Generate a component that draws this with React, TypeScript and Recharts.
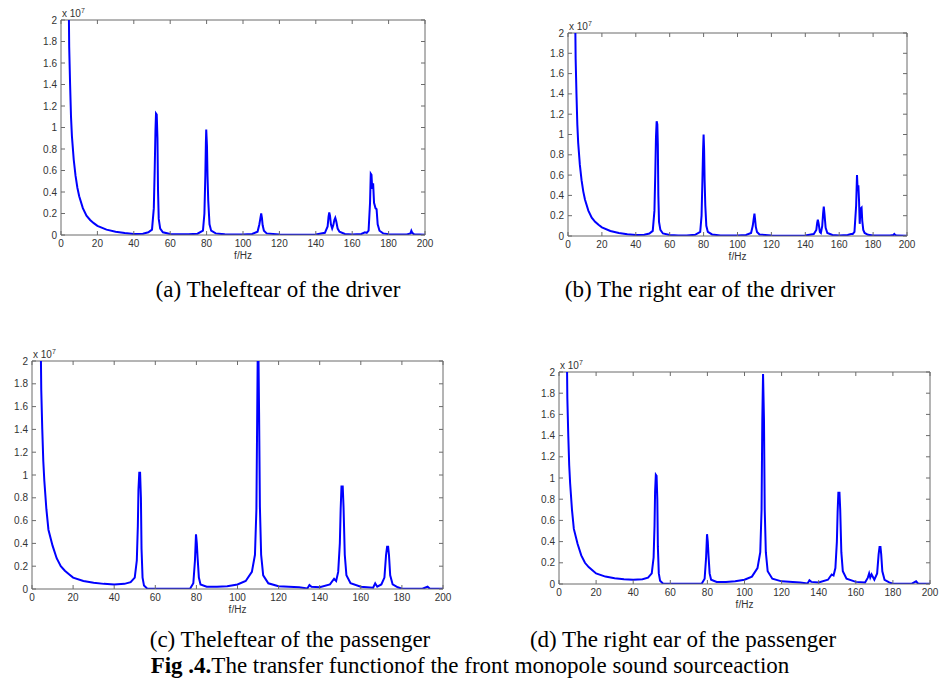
import { Line, LineChart, ReferenceLine, XAxis, YAxis } from 'recharts'

const FREQ_TICKS = [0, 20, 40, 60, 80, 100, 120, 140, 160, 180, 200]
const AMP_TICKS = [0, 0.2, 0.4, 0.6, 0.8, 1, 1.2, 1.4, 1.6, 1.8, 2]

// values in units of 1e7
const freqA = [
  4, 4.5, 5, 5.5, 6, 7, 8, 9, 10, 12, 14, 16, 18, 20, 25, 30, 35, 40, 45, 48,
  50, 51, 51.5, 51.9, 52.2, 52.6, 53, 53.3, 53.7, 54.5, 56, 60, 65, 70, 75, 78,
  78.8, 79.3, 79.6, 79.8, 80.2, 80.5, 80.9, 81.6, 82.5, 85, 90, 100, 105, 108,
  109, 109.5, 110, 110.4, 110.8, 111.5, 113, 120, 130, 140, 145, 146.5, 147,
  147.4, 147.8, 148.3, 149, 149.6, 150.2, 150.7, 151.2, 152, 153, 156, 160, 165,
  167, 168, 169, 169.8, 170.2, 170.6, 171, 171.5, 172, 172.8, 173.4, 174, 175,
  177, 180, 190, 192, 192.5, 193, 194, 200,
]
const ampA = [
  2.6, 1.75, 1.4, 1.1, 0.92, 0.7, 0.55, 0.44, 0.36, 0.25, 0.18, 0.14, 0.11,
  0.085, 0.05, 0.03, 0.018, 0.01, 0.012, 0.025, 0.05, 0.25, 0.62, 0.97, 1.13,
  1.12, 0.9, 0.42, 0.15, 0.06, 0.025, 0.01, 0.006, 0.006, 0.012, 0.04, 0.2,
  0.55, 0.85, 0.98, 0.83, 0.55, 0.32, 0.1, 0.04, 0.015, 0.006, 0.005, 0.01,
  0.03, 0.1, 0.15, 0.2, 0.16, 0.09, 0.04, 0.015, 0.005, 0.003, 0.005, 0.02,
  0.08, 0.17, 0.21, 0.18, 0.1, 0.06, 0.09, 0.14, 0.16, 0.13, 0.06, 0.03, 0.01,
  0.005, 0.01, 0.025, 0.02, 0.04, 0.3, 0.57, 0.56, 0.43, 0.48, 0.3, 0.25, 0.24,
  0.1, 0.04, 0.015, 0.008, 0.005, 0.015, 0.04, 0.02, 0.006, 0.003,
]

const freqB = [
  4, 4.5, 5, 5.5, 6, 7, 8, 9, 10, 12, 14, 16, 18, 20, 25, 30, 35, 40, 45, 48,
  50, 51, 51.5, 51.9, 52.3, 52.7, 53, 53.3, 53.7, 54.5, 56, 60, 65, 70, 75, 78,
  78.8, 79.3, 79.7, 80, 80.3, 80.6, 81, 81.6, 82.5, 85, 90, 100, 105, 108, 109,
  109.5, 110, 110.4, 110.8, 111.5, 113, 120, 130, 140, 145, 146.5, 147, 147.4,
  147.9, 148.6, 149.2, 150, 150.5, 150.9, 151.3, 152, 153, 156, 160, 165, 167,
  168, 169, 170, 170.5, 170.9, 171.3, 171.7, 172.1, 172.6, 173.2, 173.6, 174.2,
  175, 177, 180, 190, 192, 192.5, 193, 194, 200,
]
const ampB = [
  2.6, 1.75, 1.4, 1.1, 0.92, 0.7, 0.55, 0.44, 0.36, 0.25, 0.18, 0.14, 0.11,
  0.085, 0.05, 0.03, 0.018, 0.01, 0.012, 0.025, 0.05, 0.25, 0.62, 0.97, 1.13,
  1.1, 0.9, 0.4, 0.14, 0.06, 0.025, 0.01, 0.006, 0.006, 0.012, 0.04, 0.2, 0.55,
  0.85, 1.0, 0.85, 0.55, 0.3, 0.1, 0.04, 0.015, 0.006, 0.005, 0.01, 0.03, 0.1,
  0.16, 0.22, 0.16, 0.09, 0.04, 0.015, 0.005, 0.003, 0.005, 0.02, 0.06, 0.13,
  0.16, 0.12, 0.04, 0.03, 0.1, 0.22, 0.29, 0.22, 0.08, 0.03, 0.01, 0.005, 0.01,
  0.02, 0.02, 0.04, 0.3, 0.6, 0.45, 0.5, 0.35, 0.12, 0.27, 0.28, 0.15, 0.06,
  0.03, 0.012, 0.006, 0.004, 0.01, 0.02, 0.01, 0.004, 0.002,
]

const freqC = [
  4, 4.5, 5, 5.5, 6, 7, 8, 10, 12, 14, 16, 18, 20, 25, 30, 35, 40, 45, 48, 50,
  51, 51.5, 51.8, 52.2, 52.6, 53, 53.3, 53.8, 54.5, 56, 60, 70, 77, 78.5, 79.3,
  79.8, 80.2, 80.6, 81.2, 82, 85, 90, 95, 100, 104, 107, 108.5, 109.2, 109.6,
  110, 110.5, 110.9, 111.5, 112.5, 115, 120, 130, 134, 135, 136, 140, 145, 147,
  148, 149, 149.8, 150.2, 150.6, 151.2, 151.6, 152.2, 153, 155, 160, 166, 167,
  168, 170, 171.5, 172.3, 172.8, 173.3, 173.7, 174.3, 175.5, 178, 180, 190,
  192.5, 193.5, 200,
]
const ampC = [
  2.6, 1.75, 1.4, 1.12, 0.95, 0.7, 0.52, 0.38, 0.27, 0.2, 0.16, 0.13, 0.1, 0.07,
  0.055, 0.045, 0.04, 0.045, 0.06, 0.1, 0.25, 0.55, 0.87, 1.02, 1.02, 0.8, 0.35,
  0.1, 0.03, 0.005, 0.002, 0.002, 0.005, 0.05, 0.25, 0.48, 0.4, 0.27, 0.1, 0.04,
  0.02, 0.02, 0.025, 0.04, 0.07, 0.15, 0.3, 0.7, 1.55, 2.4, 1.55, 0.72, 0.3,
  0.12, 0.05, 0.025, 0.015, 0.005, 0.035, 0.02, 0.015, 0.04, 0.09, 0.07, 0.15,
  0.4, 0.7, 0.9, 0.9, 0.72, 0.3, 0.12, 0.05, 0.02, 0.012, 0.05, 0.02, 0.04, 0.1,
  0.3, 0.37, 0.37, 0.3, 0.12, 0.04, 0.015, 0.003, 0.002, 0.02, 0.005, 0.002,
]

const freqD = [
  4, 4.5, 5, 5.5, 6, 7, 8, 10, 12, 14, 16, 18, 20, 25, 30, 35, 40, 45, 48, 50,
  51, 51.5, 51.8, 52.2, 52.6, 53, 53.3, 53.8, 54.5, 56, 60, 70, 77, 78.5, 79.3,
  79.8, 80.2, 80.6, 81.2, 82, 85, 90, 95, 100, 104, 107, 108.5, 109.2, 109.6,
  110, 110.5, 110.9, 111.5, 112.5, 115, 120, 130, 134, 135, 136, 140, 145, 147,
  148, 149, 149.8, 150.2, 150.6, 151.2, 151.6, 152.2, 153, 155, 160, 165, 166.5,
  167.2, 167.8, 168.5, 170, 171.5, 172.3, 172.8, 173.3, 173.7, 174.3, 175.5,
  178, 180, 190, 192.5, 193.5, 200,
]
const ampD = [
  2.6, 1.75, 1.4, 1.12, 0.95, 0.7, 0.52, 0.38, 0.27, 0.2, 0.16, 0.13, 0.1, 0.07,
  0.055, 0.045, 0.04, 0.045, 0.06, 0.1, 0.25, 0.55, 0.87, 1.03, 1.02, 0.8, 0.35,
  0.1, 0.03, 0.005, 0.002, 0.002, 0.005, 0.05, 0.25, 0.47, 0.4, 0.27, 0.1, 0.04,
  0.02, 0.02, 0.025, 0.04, 0.07, 0.15, 0.3, 0.7, 1.55, 1.98, 1.55, 0.7, 0.3,
  0.12, 0.05, 0.025, 0.015, 0.005, 0.035, 0.02, 0.015, 0.04, 0.09, 0.08, 0.15,
  0.4, 0.68, 0.86, 0.86, 0.7, 0.3, 0.12, 0.05, 0.02, 0.015, 0.06, 0.1, 0.06,
  0.09, 0.04, 0.1, 0.28, 0.35, 0.35, 0.28, 0.12, 0.04, 0.015, 0.003, 0.002,
  0.025, 0.005, 0.002,
]

const toRows = (f: number[], a: number[]) => f.map((x, i) => ({ f: x, v: a[i] }))

const FRAME = '#6b6b6b'
const TICK_FONT = 'Arial, "Liberation Sans", sans-serif'

type PanelProps = {
  left: number
  top: number
  w: number
  h: number
  rows: { f: number; v: number }[]
}

function Panel({ left, top, w, h, rows }: PanelProps) {
  const ML = 32
  const MT = 10
  const MR = 10
  const MB = 30

  const xTick = (props: any) => {
    const { x, y, payload } = props
    return (
      <g>
        <line x1={x} y1={y} x2={x} y2={y - 4} stroke={FRAME} />
        <line x1={x} y1={y - h} x2={x} y2={y - h + 4} stroke={FRAME} />
        <text
          x={x}
          y={y + 12}
          textAnchor="middle"
          fontSize={10}
          fontFamily={TICK_FONT}
          fill="#333"
        >
          {payload.value}
        </text>
      </g>
    )
  }

  const yTick = (props: any) => {
    const { x, y, payload } = props
    return (
      <g>
        <line x1={x} y1={y} x2={x + 4} y2={y} stroke={FRAME} />
        <line x1={x + w} y1={y} x2={x + w - 4} y2={y} stroke={FRAME} />
        <text
          x={x - 4}
          y={y + 3.5}
          textAnchor="end"
          fontSize={10}
          fontFamily={TICK_FONT}
          fill="#333"
        >
          {payload.value}
        </text>
      </g>
    )
  }

  return (
    <div style={{ position: 'absolute', left: left - ML, top: top - MT }}>
      <LineChart
        width={w + ML + MR}
        height={h + MT + MB}
        data={rows}
        margin={{ top: MT, right: MR, bottom: 0, left: 0 }}
      >
        <XAxis
          dataKey="f"
          type="number"
          domain={[0, 200]}
          ticks={FREQ_TICKS}
          interval={0}
          allowDataOverflow
          height={MB}
          tickSize={0}
          tickMargin={0}
          tickLine={false}
          tick={xTick}
          axisLine={{ stroke: FRAME }}
          label={{
            value: 'f/Hz',
            position: 'insideBottom',
            offset: 6,
            fontSize: 10,
            fontFamily: TICK_FONT,
            fill: '#333',
          }}
        />
        <YAxis
          type="number"
          domain={[0, 2]}
          ticks={AMP_TICKS}
          interval={0}
          allowDataOverflow
          width={ML}
          tickSize={0}
          tickMargin={0}
          tickLine={false}
          tick={yTick}
          axisLine={{ stroke: FRAME }}
        />
        <ReferenceLine y={2} stroke={FRAME} />
        <ReferenceLine x={200} stroke={FRAME} />
        <Line
          type="linear"
          dataKey="v"
          stroke="#0000ff"
          strokeWidth={2}
          dot={false}
          isAnimationActive={false}
        />
      </LineChart>
      <div
        style={{
          position: 'absolute',
          left: ML + 1,
          top: MT - 15,
          fontSize: 10,
          fontFamily: TICK_FONT,
          color: '#333',
          whiteSpace: 'nowrap',
          lineHeight: '12px',
        }}
      >
        x 10<sup style={{ fontSize: 7, verticalAlign: '4px' }}>7</sup>
      </div>
    </div>
  )
}

const captionStyle = (cx: number, cy: number): React.CSSProperties => ({
  position: 'absolute',
  left: cx - 350,
  top: cy - 13,
  width: 700,
  textAlign: 'center',
  fontFamily: '"Liberation Serif", "Times New Roman", serif',
  fontSize: 23,
  lineHeight: '26px',
  color: '#000',
  whiteSpace: 'nowrap',
})

export default function App() {
  return (
    <div
      style={{
        position: 'absolute',
        left: 0,
        top: 0,
        width: 939,
        height: 686,
        background: '#fff',
        overflow: 'hidden',
      }}
    >
      <Panel left={61} top={20} w={364} h={215} rows={toRows(freqA, ampA)} />
      <Panel left={568} top={33} w={339} h={203} rows={toRows(freqB, ampB)} />
      <Panel left={32} top={361} w={411} h={228} rows={toRows(freqC, ampC)} />
      <Panel left={559} top={372} w={371} h={212} rows={toRows(freqD, ampD)} />

      <div style={captionStyle(278, 290)}>(a) Theleftear of the driver</div>
      <div style={captionStyle(700, 290)}>(b) The right ear of the driver</div>
      <div style={captionStyle(290, 640)}>(c) Theleftear of the passenger</div>
      <div style={captionStyle(683, 640)}>(d) The right ear of the passenger</div>
      <div style={captionStyle(470, 666)}>
        <b>Fig .4.</b>The transfer functionof the front monopole sound sourceaction
      </div>
    </div>
  )
}
